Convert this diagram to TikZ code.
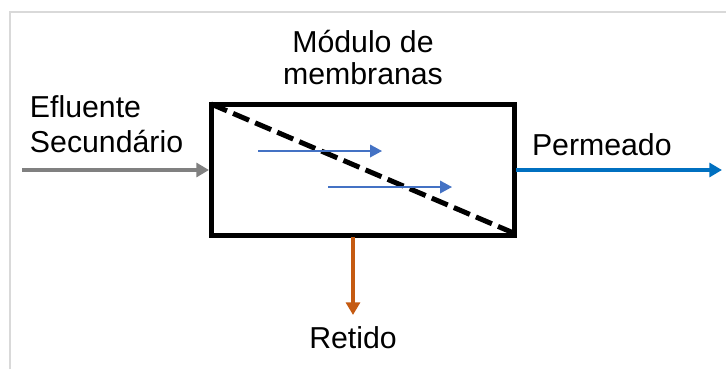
\documentclass[tikz,border=0pt]{standalone}
\usepackage{fontspec}
\setmainfont{Liberation Sans}
\usetikzlibrary{arrows.meta}
\definecolor{frameGray}{HTML}{D9D9D9}
\definecolor{feedGray}{HTML}{808080}
\definecolor{permBlue}{HTML}{0070C0}
\definecolor{flowBlue}{HTML}{4472C4}
\definecolor{retOrange}{HTML}{C55A11}
\tikzset{
  lbl/.style={inner sep=0pt, outer sep=0pt, font=\fontsize{22.7}{23.3}\selectfont, text=black},
  thickflow/.style={line width=3.3pt, -{Triangle[length=9.5pt,width=10.5pt]}},
  thinflow/.style={line width=1.1pt, draw=flowBlue, -{Triangle[length=9pt,width=9.5pt]}},
  modbox/.style={draw=black, line width=3.75pt, inner sep=0pt, outer sep=0pt,
                 minimum width=303*0.75pt, minimum height=131*0.75pt},
}
\begin{document}
\begin{tikzpicture}[x=0.75pt, y=-0.75pt]
  \useasboundingbox (0,0) rectangle (726,369);
  % thin frame along the top and left edge
  \draw[frameGray, line width=1.5pt] (10,369) -- (10,12) -- (726,12);

  % membrane module
  \node[modbox] (box) at (362.5,169.5) {};
  \draw[line width=3.75pt, dash pattern=on 13pt off 5pt]
    (box.north west) -- ([xshift=-1.5pt,yshift=2pt]box.south east);

  % internal flow arrows
  \coordinate (f1s) at (258,151);
  \coordinate (f1e) at (382,151);
  \coordinate (f2s) at (328,187);
  \coordinate (f2e) at (452,187);
  \draw[thinflow] (f1s) -- (f1e);
  \draw[thinflow] (f2s) -- (f2e);

  % feed, permeate and retentate streams
  \coordinate (feed) at (22,170);
  \coordinate (perm) at (722,170);
  \coordinate (retS) at (353,237);
  \coordinate (retE) at (353,315);
  \draw[thickflow, feedGray] (feed) -- ([xshift=-1.5pt]box.west |- feed);
  \draw[thickflow, permBlue] ([xshift=1.5pt]box.east |- perm) -- (perm);
  \draw[thickflow, retOrange] (retS) -- (retE);

  % labels
  \node[lbl, anchor=base] (t1) at (363,52) {Módulo de};
  \node[lbl, anchor=base] (t2) at (363,84) {membranas};
  \node[lbl, anchor=base west] (e1) at (30,117) {Efluente};
  \node[lbl, anchor=base west] (e2) at (30,152) {Secundário};
  \node[lbl, anchor=base west] (p1) at (532,155) {Permeado};
  \node[lbl, anchor=base] (r1) at (353,348) {Retido};
\end{tikzpicture}
\end{document}
